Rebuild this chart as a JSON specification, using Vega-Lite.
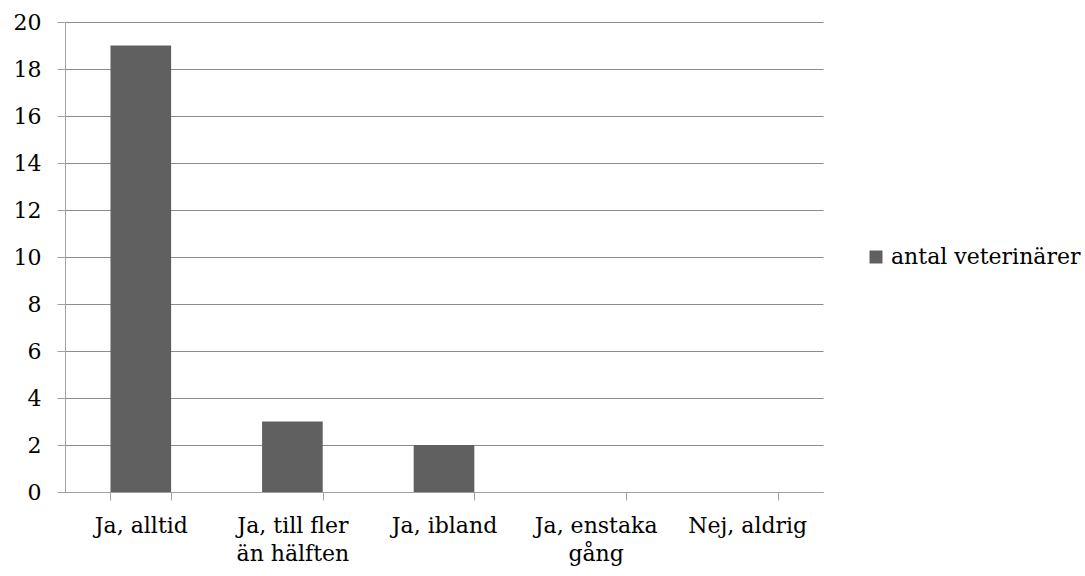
{
  "$schema": "https://vega.github.io/schema/vega-lite/v6.json",
  "width": 758,
  "height": 470,
  "autosize": {"type": "none"},
  "padding": {"left": 65, "top": 22, "right": 262, "bottom": 84},
  "background": "white",
  "data": {
    "values": [
      {"svar": "Ja, alltid", "antal": 19, "serie": "antal veterinärer"},
      {"svar": "Ja, till fler än hälften", "antal": 3, "serie": "antal veterinärer"},
      {"svar": "Ja, ibland", "antal": 2, "serie": "antal veterinärer"},
      {"svar": "Ja, enstaka gång", "antal": 0, "serie": "antal veterinärer"},
      {"svar": "Nej, aldrig", "antal": 0, "serie": "antal veterinärer"}
    ]
  },
  "mark": {"type": "bar", "stroke": null},
  "encoding": {
    "x": {
      "field": "svar",
      "type": "nominal",
      "sort": null,
      "title": null,
      "scale": {"paddingInner": 0.6, "paddingOuter": 0.3},
      "axis": {
        "labelAngle": 0,
        "tickBand": "extent",
        "tickSize": 8,
        "tickColor": "#a0a0a0",
        "domainColor": "#a0a0a0",
        "labelPadding": 15,
        "labelFont": "DejaVu Serif",
        "labelFontSize": 22,
        "labelColor": "#000000",
        "labelLineHeight": 28,
        "labelLimit": 200,
        "labelExpr": "datum.label == 'Ja, till fler än hälften' ? ['Ja, till fler', 'än hälften'] : datum.label == 'Ja, enstaka gång' ? ['Ja, enstaka', 'gång'] : datum.label"
      }
    },
    "y": {
      "field": "antal",
      "type": "quantitative",
      "title": null,
      "scale": {"domain": [0, 20], "nice": false},
      "axis": {
        "values": [0, 2, 4, 6, 8, 10, 12, 14, 16, 18, 20],
        "tickSize": 8,
        "tickColor": "#a0a0a0",
        "domainColor": "#a0a0a0",
        "gridColor": "#8c8c8c",
        "labelPadding": 16,
        "labelFont": "DejaVu Serif",
        "labelFontSize": 22,
        "labelColor": "#000000"
      }
    },
    "color": {
      "field": "serie",
      "type": "nominal",
      "scale": {"range": ["#606060"]},
      "legend": {
        "title": null,
        "orient": "right",
        "offset": 42,
        "symbolType": "square",
        "symbolSize": 169,
        "symbolStrokeWidth": 0,
        "labelFont": "DejaVu Serif",
        "labelFontSize": 22,
        "labelColor": "#000000",
        "labelLimit": 300,
        "padding": 0
      }
    }
  },
  "config": {
    "view": {"stroke": null},
    "axis": {"grid": true},
    "axisX": {"grid": false},
    "legend": {"layout": {"right": {"anchor": "middle"}}}
  }
}
